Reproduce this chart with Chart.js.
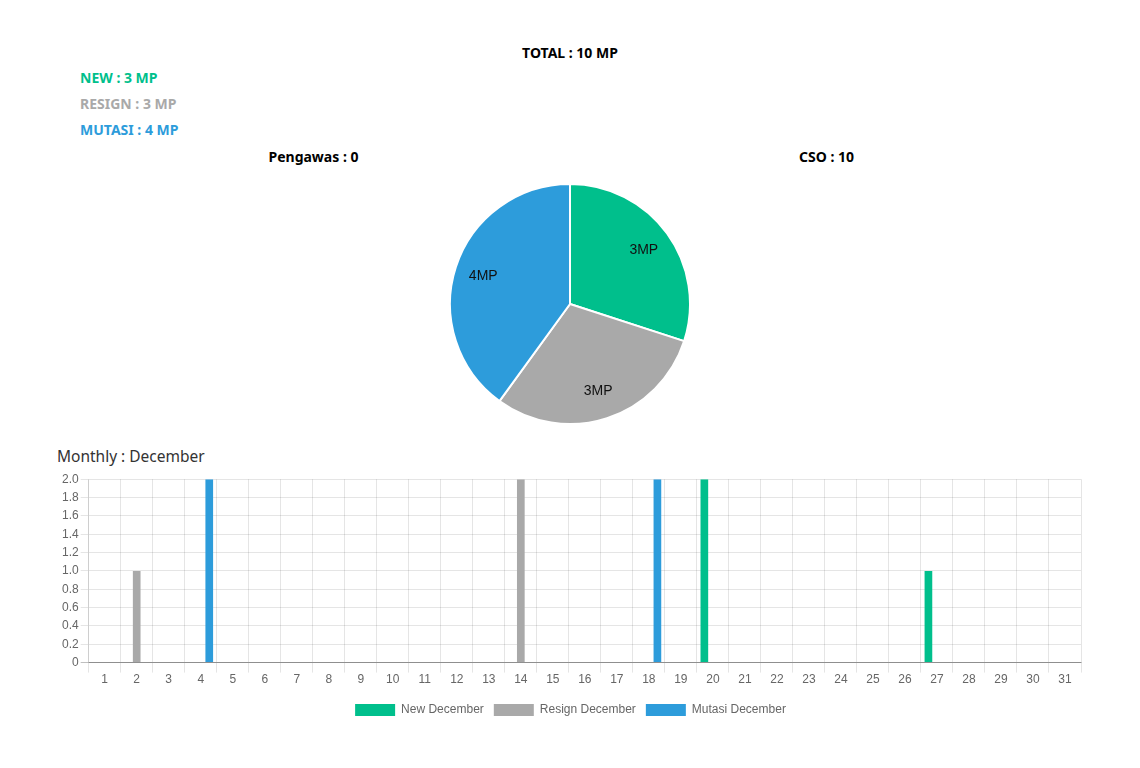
<!DOCTYPE html>
<html>
<head>
<meta charset="utf-8">
<script src="https://cdn.jsdelivr.net/npm/chart.js@4/dist/chart.umd.min.js"></script>
<style>
  body { margin: 0; background: #fff; font-family: "Noto Sans", sans-serif; }
  .page { position: relative; width: 1140px; height: 768px; }
  .txt { position: absolute; font-weight: bold; font-size: 14px; white-space: nowrap; }
  #total { left: 0; width: 1140px; top: 43px; text-align: center; color: #000; }
  #newTxt { left: 80px; top: 68px; }
  #resignTxt { left: 80px; top: 94px; }
  #mutasiTxt { left: 80px; top: 120px; }
  #pengawas { left: 57px; width: 513px; top: 147px; text-align: center; color: #000; }
  #cso { left: 570px; width: 513px; top: 147px; text-align: center; color: #000; }
  #monthly { position: absolute; left: 57px; top: 445px; font-size: 15.5px; color: #333; }
  #pieWrap { position: absolute; left: 449px; top: 183px; }
  #barWrap { position: absolute; left: 57px; top: 470px; }
</style>
</head>
<body>
<div class="page">
  <div class="txt" id="total"></div>
  <div class="txt" id="newTxt"></div>
  <div class="txt" id="resignTxt"></div>
  <div class="txt" id="mutasiTxt"></div>
  <div class="txt" id="pengawas"></div>
  <div class="txt" id="cso"></div>
  <div id="monthly">Monthly : December</div>
  <div id="pieWrap"><canvas id="pieChart" width="242" height="242"></canvas></div>
  <div id="barWrap"><canvas id="barChart" width="1030" height="256"></canvas></div>
</div>
<script>
// summary numbers
const totalMP = 10;
const pengawasCount = 0;
const csoCount = 10;

// pie
const pieLabels = ['New', 'Resign', 'Mutasi'];
const pieValues = [3, 3, 4];
const colorNew = '#00bf8c';
const colorResign = '#a9a9a9';
const colorMutasi = '#2d9cdb';

// monthly bars
const days = ['1','2','3','4','5','6','7','8','9','10','11','12','13','14','15','16',
  '17','18','19','20','21','22','23','24','25','26','27','28','29','30','31'];
const newDecember    = [0,0,0,0,0,0,0,0,0,0,0,0,0,0,0,0,0,0,0,2,0,0,0,0,0,0,1,0,0,0,0];
const resignDecember = [0,1,0,0,0,0,0,0,0,0,0,0,0,2,0,0,0,0,0,0,0,0,0,0,0,0,0,0,0,0,0];
const mutasiDecember = [0,0,0,2,0,0,0,0,0,0,0,0,0,0,0,0,0,2,0,0,0,0,0,0,0,0,0,0,0,0,0];

document.getElementById('total').textContent = 'TOTAL : ' + totalMP + ' MP';
const nt = document.getElementById('newTxt');
nt.textContent = 'NEW : ' + pieValues[0] + ' MP'; nt.style.color = colorNew;
const rt = document.getElementById('resignTxt');
rt.textContent = 'RESIGN : ' + pieValues[1] + ' MP'; rt.style.color = colorResign;
const mt = document.getElementById('mutasiTxt');
mt.textContent = 'MUTASI : ' + pieValues[2] + ' MP'; mt.style.color = colorMutasi;
document.getElementById('pengawas').textContent = 'Pengawas : ' + pengawasCount;
document.getElementById('cso').textContent = 'CSO : ' + csoCount;

// draws "3MP" etc inside the slices
const sliceLabels = {
  id: 'sliceLabels',
  afterDatasetsDraw(chart) {
    const ctx = chart.ctx;
    const meta = chart.getDatasetMeta(0);
    ctx.save();
    ctx.font = '14px "Liberation Sans", Arial, sans-serif';
    ctx.fillStyle = '#111';
    ctx.textAlign = 'center';
    ctx.textBaseline = 'middle';
    meta.data.forEach((arc, i) => {
      const p = arc.getProps(['x', 'y', 'startAngle', 'endAngle', 'outerRadius']);
      const mid = (p.startAngle + p.endAngle) / 2;
      const r = p.outerRadius * 0.76;
      ctx.fillText(chart.data.datasets[0].data[i] + 'MP', p.x + Math.cos(mid) * r, p.y + Math.sin(mid) * r);
    });
    ctx.restore();
  }
};

window.pieChart = new Chart(document.getElementById('pieChart').getContext('2d'), {
  type: 'pie',
  data: {
    labels: pieLabels,
    datasets: [{
      data: pieValues,
      backgroundColor: [colorNew, colorResign, colorMutasi],
      borderColor: '#fff',
      borderWidth: 2
    }]
  },
  options: {
    responsive: false,
    animation: false,
    plugins: { legend: { display: false }, tooltip: { enabled: false } }
  },
  plugins: [sliceLabels]
});

const tickFont = { family: '"Liberation Sans", Helvetica, Arial, sans-serif', size: 12 };

window.barChart = new Chart(document.getElementById('barChart').getContext('2d'), {
  type: 'bar',
  data: {
    labels: days,
    datasets: [
      { label: 'New December', data: newDecember, backgroundColor: colorNew, borderWidth: 0 },
      { label: 'Resign December', data: resignDecember, backgroundColor: colorResign, borderWidth: 0 },
      { label: 'Mutasi December', data: mutasiDecember, backgroundColor: colorMutasi, borderWidth: 0 }
    ]
  },
  options: {
    responsive: false,
    animation: false,
    layout: { padding: { left: 3, right: 6, top: 1 } },
    scales: {
      x: {
        grid: { offset: true, color: 'rgba(0,0,0,0.1)', tickLength: 10 },
        border: { color: 'rgba(0,0,0,0.25)' },
        ticks: { color: '#666', font: tickFont, padding: 0, maxRotation: 0, autoSkip: false },
        afterFit: (scale) => { scale.height += 7; }
      },
      y: {
        min: 0,
        max: 2,
        grid: {
          color: (c) => c.tick && c.tick.value === 0 ? 'rgba(0,0,0,0.25)' : 'rgba(0,0,0,0.1)',
          tickLength: 8
        },
        border: { color: 'rgba(0,0,0,0.1)' },
        ticks: {
          stepSize: 0.2,
          color: '#666',
          font: tickFont,
          padding: 2,
          callback: (v) => v === 0 ? '0' : Number(v).toFixed(1)
        }
      }
    },
    plugins: {
      tooltip: { enabled: false },
      legend: {
        position: 'bottom',
        labels: { boxWidth: 40, boxHeight: 12, color: '#666', font: tickFont, padding: 10 }
      }
    }
  }
});
</script>
</body>
</html>
